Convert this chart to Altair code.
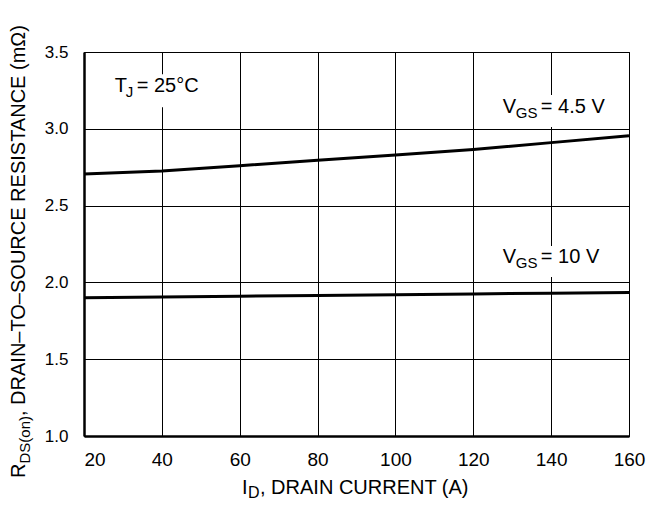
import altair as alt
import pandas as pd

# ---- data ----
current = [20, 40, 60, 80, 100, 120, 140, 160]
r_vgs45 = [2.705, 2.725, 2.76, 2.795, 2.83, 2.865, 2.91, 2.955]
r_vgs10 = [1.90, 1.905, 1.91, 1.915, 1.92, 1.925, 1.93, 1.935]
series_names = ["VGS = 4.5 V", "VGS = 10 V"]

x_ticks = [20, 40, 60, 80, 100, 120, 140, 160]
y_ticks = [1.0, 1.5, 2.0, 2.5, 3.0, 3.5]

# annotation pieces: (main, subscript, rest)
ann_main = ["T", "V", "V"]
ann_sub = ["J", "GS", "GS"]
ann_rest = [" = 25°C", " = 4.5 V", " = 10 V"]
ann_x = [27.9, 127.6, 127.6]
ann_y = [3.24, 3.103, 2.126]
box_x1 = [26.5, 126.3, 126.3]
box_x2 = [53.6, 158.2, 157.7]
box_y1 = [3.14, 3.012, 2.035]
box_y2 = [3.355, 3.22, 2.237]

x_title = ["I", "D", ", DRAIN CURRENT (A)"]
y_title = ["R", "DS(on)", ", DRAIN\u2013TO\u2013SOURCE RESISTANCE (m\u03a9)"]

FONT = "Liberation Sans"

rows = []
for name, vals in zip(series_names, [r_vgs45, r_vgs10]):
    for c, v in zip(current, vals):
        rows.append({"series": name, "id": c, "r": v})
df = pd.DataFrame(rows)

xscale = alt.Scale(domain=[20, 160], nice=False, zero=False)
yscale = alt.Scale(domain=[1.0, 3.5], nice=False, zero=False)

xaxis = alt.Axis(
    values=x_ticks, title="", grid=True, gridColor="black", gridWidth=1, gridOpacity=1,
    ticks=False, tickSize=0, labelPadding=14, labelFontSize=19, labelFont=FONT,
    labelColor="black", labelFlush=False,
    labelAlign={"condition": {"test": "datum.value <= 20", "value": "left"}, "value": "center"},
    domainColor="black", domainWidth=2.5, format="d",
)
yaxis = alt.Axis(
    values=y_ticks, title="", grid=True, gridColor="black", gridWidth=1, gridOpacity=1,
    ticks=False, tickSize=0, labelPadding=16, labelFontSize=17, labelFont=FONT,
    labelColor="black", domainColor="black", domainWidth=2.5, format=".1f",
)

lines = alt.Chart(df).mark_line(color="black", strokeWidth=3).encode(
    x=alt.X("id:Q", scale=xscale, axis=xaxis),
    y=alt.Y("r:Q", scale=yscale, axis=yaxis),
    detail="series:N",
)

boxdf = pd.DataFrame({"x1": box_x1, "x2": box_x2, "y1": box_y1, "y2": box_y2})
boxes = alt.Chart(boxdf).mark_rect(color="white").encode(
    x=alt.X("x1:Q", scale=xscale), x2="x2:Q",
    y=alt.Y("y1:Q", scale=yscale), y2="y2:Q",
)

anndf = pd.DataFrame({"x": ann_x, "y": ann_y, "m": ann_main, "s": ann_sub, "r": ann_rest})
sub_dx = [11, 13, 13]
rest_dx = [22, 38, 38]
ann_layers = []
for i in range(len(ann_main)):
    d = anndf.iloc[[i]]
    base = alt.Chart(d).encode(x=alt.X("x:Q", scale=xscale), y=alt.Y("y:Q", scale=yscale))
    ann_layers.append(base.mark_text(align="left", baseline="alphabetic", font=FONT, fontSize=20, color="black").encode(text="m:N"))
    ann_layers.append(base.mark_text(align="left", baseline="alphabetic", font=FONT, fontSize=15, color="black", dx=sub_dx[i], dy=5).encode(text="s:N"))
    ann_layers.append(base.mark_text(align="left", baseline="alphabetic", font=FONT, fontSize=20, color="black", dx=rest_dx[i]).encode(text="r:N"))


def title_piece(txt, px, py, size, dx=0, dy=0, angle=0):
    return alt.Chart(pd.DataFrame({"t": [txt]})).mark_text(
        align="left", baseline="alphabetic", font=FONT, fontSize=size, color="black",
        dx=dx, dy=dy, angle=angle,
    ).encode(x=alt.value(px), y=alt.value(py), text="t:N")


xt = [
    title_piece(x_title[0], 158, 442, 20),
    title_piece(x_title[1], 158, 442, 16, dx=6, dy=4),
    title_piece(x_title[2], 158, 442, 20, dx=18),
]
yt = [
    title_piece(y_title[0], -59, 426, 20, angle=270),
    title_piece(y_title[1], -59, 426, 15, dx=14.5, dy=5, angle=270),
    title_piece(y_title[2], -59, 426, 20, dx=62, angle=270),
]

chart = alt.layer(lines, boxes, *ann_layers, *xt, *yt).properties(
    width=545, height=384,
    autosize=alt.AutoSizeParams(type="none"),
    padding={"left": 76, "top": 44, "right": 18, "bottom": 66},
    background="white",
).configure_view(stroke="black", strokeWidth=1)

chart.save("out.html", embed_options={"renderer": "svg", "actions": False})
